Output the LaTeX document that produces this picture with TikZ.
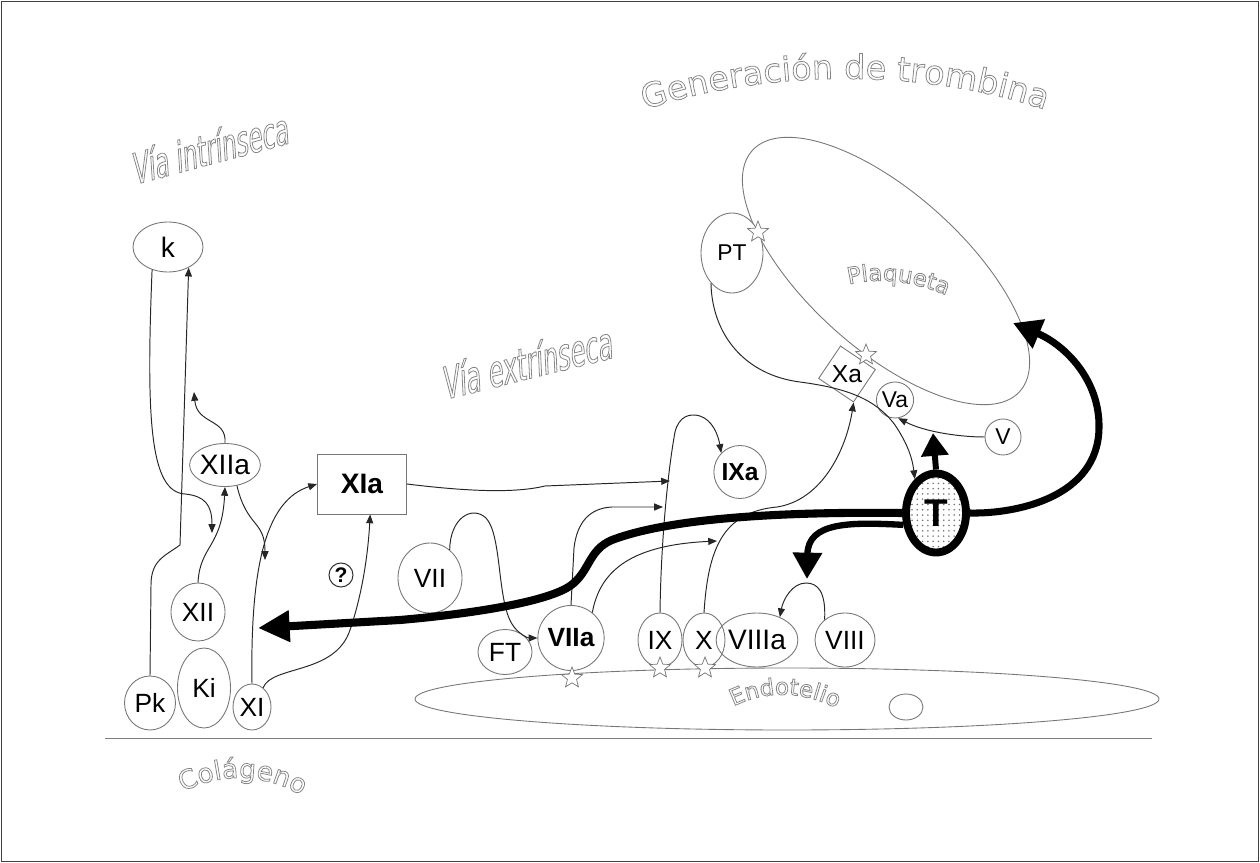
\documentclass[tikz,border=0pt]{standalone}
\usepackage{fontspec}
\setmainfont{Liberation Sans}
\newfontfamily\titlefont{DejaVu Sans}
\newfontfamily\narrowfont[FakeStretch=0.56,FakeSlant=0.2]{DejaVu Sans}
\usepackage{tikz}
\usetikzlibrary{shapes.geometric,arrows.meta,patterns,decorations.text}
\definecolor{rimgray}{RGB}{118,118,118}
\definecolor{titlegray}{RGB}{135,135,135}
\newcommand{\hollowon}{\special{pdf:literal direct 1 Tr 0.45 w}}
\newcommand{\hollowoff}{\special{pdf:literal direct 0 Tr}}
\newcommand{\fsz}[1]{\fontsize{#1}{#1}\selectfont}

\tikzset{
  factor/.style={ellipse, draw=rimgray, line width=0.5pt, inner sep=0pt, font=\fsz{15}},
  sz/.style 2 args={minimum width=#1*0.2mm, minimum height=#2*0.2mm},
  link/.style={draw=black!85, line width=0.55pt, -{Triangle[length=5pt,width=4pt]}},
  rim/.style={draw=rimgray, line width=0.5pt},
  thrust/.style={line width=4.6pt, -{Triangle[length=18pt,width=17pt]}},
  starmark/.style={star, star points=5, star point ratio=2.3, draw=rimgray, fill=white, line width=0.4pt, minimum size=4.4mm, inner sep=0pt},
  title/.style={text=titlegray, inner sep=0pt},
  arch/.style={decorate, decoration={text along path, text align=center, text color=titlegray, text={#1}}}
}

\begin{document}
\begin{tikzpicture}[x=0.2mm, y=-0.2mm]
    \useasboundingbox (0,0) rectangle (1260,863);
    \draw[line width=0.9pt, black!75] (1.5,1.5) rectangle (1258.5,861.5);

    % surfaces
    \draw[rim, draw=gray] (105,738) -- (1152,738);
    \draw[rim] (787,699) ellipse (372 and 31);
    \draw[rim] (906,707) ellipse (17 and 13);
    \draw[rim, rotate around={-42:(886,271)}] (886,271) ellipse (180 and 78);

    % titles
    \node[title, rotate=15, font=\narrowfont\fsz{24}] (intr) at (208,148) {\hollowon Vía intrínseca\hollowoff};
    \node[title, rotate=14, font=\narrowfont\fsz{25}] (extr) at (525,362) {\hollowon Vía extrínseca\hollowoff};
    \begin{scope}
        \hollowon
        \path[arch={|\titlefont\fsz{19}\color{titlegray}|Generación de trombina}] (625,117) .. controls (755,66) and (935,66) .. (1065,117);
        \path[arch={|\titlefont\fsz{13}\color{titlegray}|Plaqueta}] (840,287) .. controls (878,275) and (915,281) .. (955,299);
        \path[arch={|\titlefont\fsz{13}\color{titlegray}|Endotelio}] (725,711) .. controls (763,688) and (807,690) .. (845,713);
        \path[arch={|\titlefont\fsz{15}\color{titlegray}|Colágeno}] (174,797) .. controls (216,771) and (267,771) .. (310,801);
        \hollowoff
    \end{scope}

    % factors
    \node[factor, sz={70}{50}, font=\fsz{16}] (k) at (168,247) {k};
    \node[factor, sz={60}{43}, font=\fsz{16}] (XIIa) at (225,465) {XIIa};
    \node[rim, sz={89}{60}, font=\bfseries\fsz{16}] (XIa) at (362,484) {XIa};
    \node[circle, draw=black!80, line width=0.6pt, inner sep=0pt, minimum size=4.8mm, font=\bfseries\fsz{12}] (query) at (341,575) {?};
    \node[factor, sz={54}{58}] (XII) at (198,612) {XII};
    \node[factor, sz={53}{80}] (Ki) at (204,688) {Ki};
    \node[factor, sz={51}{54}] (Pk) at (150,703) {Pk};
    \node[factor, sz={38}{46}] (XI) at (252,707) {XI};
    \node[factor, sz={64}{70}] (VII) at (430,578) {VII};
    \node[factor, sz={54}{45}] (FT) at (505,652) {FT};
    \node[factor, sz={63}{65}, font=\bfseries\fsz{15}] (VIIa) at (571,638) {VIIa};
    \node[factor, sz={44}{54}] (IX) at (660,640) {IX};
    \node[factor, sz={42}{54}] (X) at (704,640) {X};
    \node[factor, sz={61}{54}, font=\fsz{16}] (VIIIa) at (757,640) {VIIIa};
    \node[factor, sz={60}{54}] (VIII) at (845,640) {VIII};
    \node[factor, sz={44}{53}, font=\bfseries\fsz{14}] (IXa) at (740,472) {IXa};
    \node[factor, fill=white, sz={62}{80}, font=\fsz{13}] (PT) at (732,253) {PT};
    \node[rim, rotate=-34, sz={42}{39}, inner sep=0pt, font=\fsz{14}] (Xa) at (847,374) {\rotatebox{34}{Xa}};
    \node[factor, sz={36}{36}, font=\fsz{13}] (Va) at (895,400) {Va};
    \node[factor, sz={36}{36}, font=\fsz{13}] (V) at (1003,437) {V};
    \node[ellipse, draw, line width=4.5pt, pattern=dots, pattern color=black!55, sz={60}{79}, inner sep=0pt, font=\bfseries\fsz{22}] (T) at (936,513) {T};

    \coordinate (kTip) at (212,533);
    \coordinate (upTip) at (194,392);
    \coordinate (downTip) at (265,560);
    \coordinate (ixA) at (670,481);
    \coordinate (ixB) at (663,507);
    \coordinate (xTip) at (717,541);
    \coordinate (vaLine) at (933,433);
    \coordinate (leftTip) at (258,628);
    \coordinate (plateTip) at (1013,323);
    \coordinate (viiiTip) at (807,579);

    % intrinsic
    \draw[link] (Pk.north) -- (151,585) .. controls (151,560) and (165,556) .. (180,545) -- (k.-45);
    \draw[link] (k.-125) .. controls (146,420) and (150,492) .. (185,494) .. controls (205,496) and (212,505) .. (kTip);
    \draw[link] (XII.north) .. controls (200,545) and (222,548) .. (XIIa.south);
    \draw[link] (XIIa.north) .. controls (227,418) and (197,425) .. (upTip);
    \draw[link] (XIIa.-60) .. controls (247,528) and (265,520) .. (downTip);
    \draw[link] (XI.north) .. controls (250,560) and (268,500) .. (XIa.west);
    \draw[link] (XI.60) .. controls (272,665) and (335,675) .. (350,630) .. controls (362,595) and (368,555) .. (XIa.-75);
    \draw[link] (XIa.east) .. controls (480,493) and (520,492) .. (545,486) -- (ixA);

    % extrinsic
    \draw[link] (VII.55) .. controls (450,518) and (472,505) .. (486,518) .. controls (502,535) and (497,600) .. (512,624) .. controls (518,634) and (528,638) .. (VIIa.west);
    \draw[link] (VIIa.north) -- (574,548) .. controls (577,522) and (590,508) .. (612,507) -- (ixB);
    \draw[link] (VIIa.50) .. controls (600,570) and (632,545) .. (xTip);
    \draw[link] (IX.north) .. controls (661,540) and (668,470) .. (675,432) .. controls (679,416) and (690,413) .. (700,416) .. controls (712,420) and (718,434) .. (IXa.north west);
    \draw[link] (X.north) .. controls (708,550) and (722,512) .. (777,507) .. controls (822,500) and (846,450) .. (Xa.south east);
    \draw[link] (VIII.135) .. controls (826,592) and (818,583) .. (806,583) .. controls (792,583) and (783,600) .. (VIIIa.45);

    % platelet
    \draw[link] (PT.-125) .. controls (712,335) and (745,375) .. (800,382) .. controls (845,388) and (875,398) .. (895,425) .. controls (905,440) and (912,455) .. (T.122);
    \draw[link] (V.west) .. controls (960,437) and (925,432) .. (Va.-80);

    % thrombin
    \draw[thrust] (T.west) .. controls (820,512) and (680,514) .. (612,540) .. controls (588,550) and (590,572) .. (570,586) .. controls (548,601) and (480,613) .. (400,620) -- (leftTip);
    \draw[thrust, line width=3.6pt, -{Triangle[length=15pt,width=16pt]}] (T.200) .. controls (850,522) and (808,522) .. (viiiTip);
    \draw[thrust, line width=4pt, -{Triangle[length=16pt,width=17pt]}] (T.east) .. controls (1015,514) and (1098,498) .. (1099,428) .. controls (1100,380) and (1065,345) .. (plateTip);
    \draw[thrust, line width=3.4pt, -{Triangle[length=13pt,width=15pt]}] (T.north) -- (vaLine);

    \node[starmark] (sVIIa) at (572,678) {};
    \node[starmark] (sIX) at (660,668) {};
    \node[starmark] (sX) at (705,668) {};
    \node[starmark] (sPT) at (758,232) {};
    \node[starmark] (sXa) at (866,355) {};
\end{tikzpicture}
\end{document}
